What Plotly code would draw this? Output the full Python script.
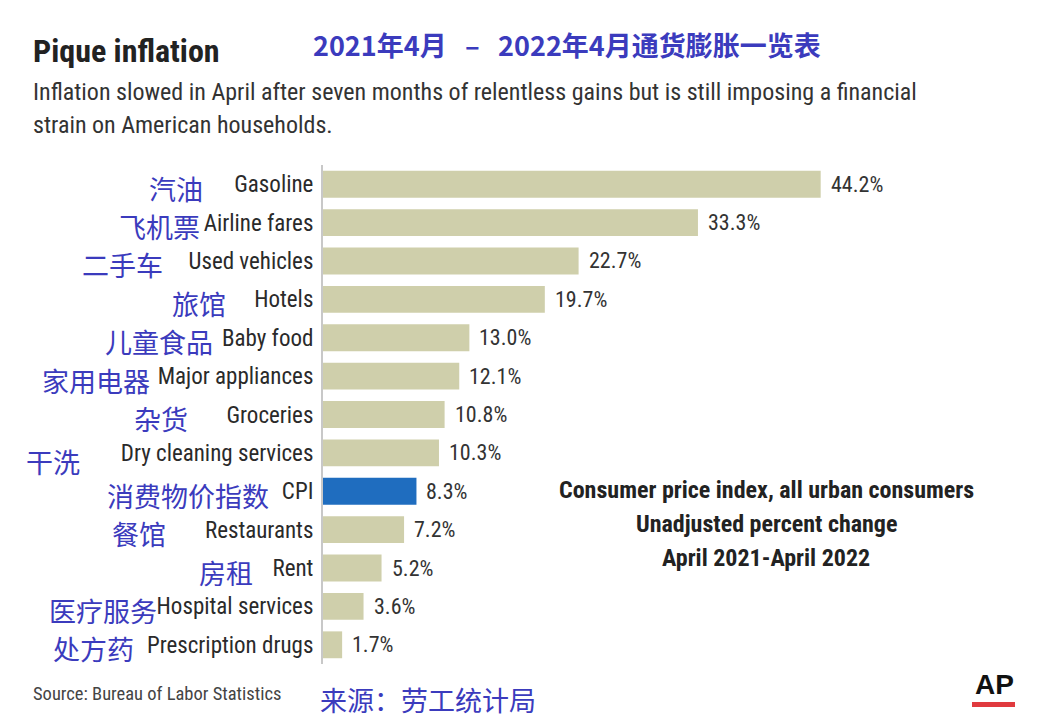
import plotly.graph_objects as go

categories = ["Gasoline", "Airline fares", "Used vehicles", "Hotels", "Baby food",
              "Major appliances", "Groceries", "Dry cleaning services", "CPI",
              "Restaurants", "Rent", "Hospital services", "Prescription drugs"]
cn_labels = ["汽油", "飞机票", "二手车", "旅馆", "儿童食品", "家用电器", "杂货",
             "干洗", "消费物价指数", "餐馆", "房租", "医疗服务", "处方药"]
values = [44.2, 33.3, 22.7, 19.7, 13.0, 12.1, 10.8, 10.3, 8.3, 7.2, 5.2, 3.6, 1.7]
highlight = "CPI"

# layout, in page pixels (the page body adds an 8px margin round the figure)
OFF = 8
W, H = 1046 - 2 * OFF, 728 - 2 * OFF
PLOT_L, PLOT_T, PLOT_B, PLOT_R = 323, 165, 664, 1000
ML, MT = PLOT_L - OFF, PLOT_T - OFF
MR, MB = W + OFF - PLOT_R, H + OFF - PLOT_B
PW, PH = PLOT_R - PLOT_L, PLOT_B - PLOT_T
PX_PER_UNIT = 11.26
# right edge of each chinese label, and vertical nudge
cn_right = [205, 202, 165, 228, 215, 152, 190, 82, 271, 168, 255, 159, 136]
cn_dy = [-4, -4, -4, -4, -4, -4, -4, -9, -4, -4, -4, -4, -4]

NARROW = "Liberation Sans Narrow, Roboto Condensed, DejaVu Sans Condensed, Arial Narrow, Roboto, sans-serif"
CJK = "Noto Sans CJK SC, sans-serif"
BLUE_TXT = "#3b3bbd"
BAR = "#cfcfab"
BAR_HL = "#1f6dbf"


def px_x(px):
    return (px - PLOT_L) / PW


def px_y(py):
    return (PLOT_B - py) / PH


colors = [BAR_HL if c == highlight else BAR for c in categories]

fig = go.Figure(go.Bar(
    x=values, y=categories, orientation="h",
    marker=dict(color=colors, line=dict(width=0)),
    hoverinfo="skip",
))

annotations = []
# value labels
for c, v in zip(categories, values):
    annotations.append(dict(
        x=v, y=c, xref="x", yref="y", text=f"{v:.1f}%", showarrow=False,
        xanchor="left", xshift=8, font=dict(family=NARROW, size=22, color="#333333")))
# chinese labels
for c, lab, r, dy in zip(categories, cn_labels, cn_right, cn_dy):
    annotations.append(dict(
        x=px_x(r), y=c, xref="paper", yref="y", text=lab, showarrow=False,
        xanchor="right", yshift=dy, font=dict(family=CJK, size=27, color=BLUE_TXT)))

# titles and notes
annotations += [
    dict(x=px_x(31), y=px_y(51), text="<b>Pique inflation</b>", xanchor="left",
         font=dict(family=NARROW, size=32, color="#222222")),
    dict(x=px_x(567), y=px_y(45),
         text="<b>2021年4月&nbsp;&nbsp;&nbsp;–&nbsp;&nbsp;&nbsp;2022年4月通货膨胀一览表</b>",
         font=dict(family=CJK, size=27, color=BLUE_TXT)),
    dict(x=px_x(31), y=px_y(92),
         text="Inflation slowed in April after seven months of relentless gains but is still imposing a financial",
         xanchor="left", font=dict(family=NARROW, size=24, color="#333333")),
    dict(x=px_x(31), y=px_y(125), text="strain on American households.", xanchor="left",
         font=dict(family=NARROW, size=24, color="#333333")),
    dict(x=px_x(766), y=px_y(490), text="<b>Consumer price index, all urban consumers</b>",
         font=dict(family=NARROW, size=24, color="#222222")),
    dict(x=px_x(766), y=px_y(524), text="<b>Unadjusted percent change</b>",
         font=dict(family=NARROW, size=24, color="#222222")),
    dict(x=px_x(766), y=px_y(558), text="<b>April 2021-April 2022</b>",
         font=dict(family=NARROW, size=24, color="#222222")),
    dict(x=px_x(31), y=px_y(694), text="Source: Bureau of Labor Statistics", xanchor="left",
         font=dict(family=NARROW, size=18.5, color="#444444")),
    dict(x=px_x(318), y=px_y(699), text="来源：劳工统计局", xanchor="left",
         font=dict(family=CJK, size=27, color=BLUE_TXT)),
    dict(x=px_x(973), y=px_y(684), text="<b>AP</b>", xanchor="left",
         font=dict(family="Liberation Sans, Arial, sans-serif", size=28, color="#111111")),
]
for a in annotations:
    a.setdefault("xref", "paper")
    a.setdefault("yref", "paper")
    a.setdefault("showarrow", False)
    a.setdefault("yanchor", "middle")

fig.update_layout(
    width=W, height=H,
    margin=dict(l=ML, r=MR, t=MT, b=MB, autoexpand=False),
    paper_bgcolor="white", plot_bgcolor="white",
    bargap=0.3,
    showlegend=False,
    xaxis=dict(range=[0, PW / PX_PER_UNIT], visible=False, fixedrange=True, automargin=False),
    yaxis=dict(range=[len(categories) - 0.5, -0.5], showline=True, linecolor="#c8c8c8",
               linewidth=2, showgrid=False, ticks="", ticklabelstandoff=3, fixedrange=True,
               automargin=False, tickfont=dict(family=NARROW, size=23, color="#2a2a2a")),
    annotations=annotations,
    shapes=[
        dict(type="rect", xref="paper", yref="paper", x0=px_x(972), x1=px_x(1015),
             y0=px_y(702), y1=px_y(707), fillcolor="#e03a3e", line=dict(width=0)),
    ],
)

fig.write_html("out.html")
